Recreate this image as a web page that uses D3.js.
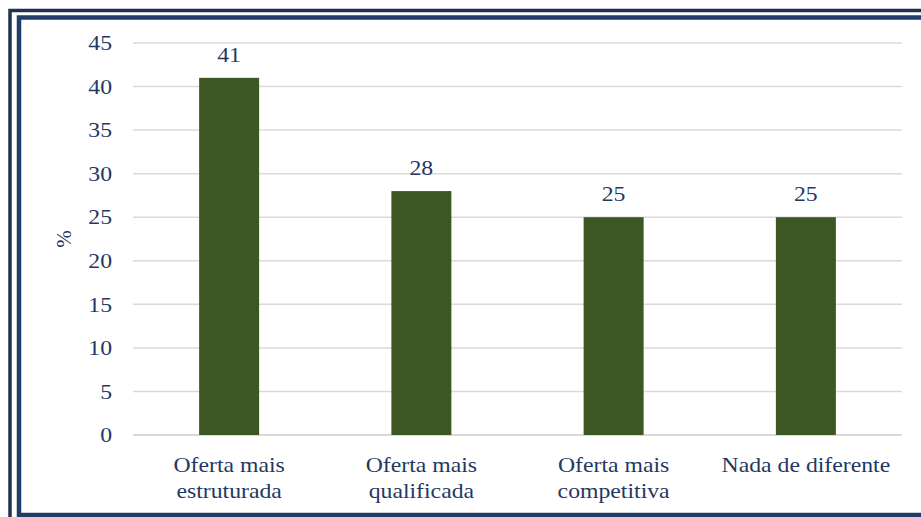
<!DOCTYPE html>
<html>
<head>
<meta charset="utf-8">
<script src="https://cdn.jsdelivr.net/npm/d3@7"></script>
<style>
  body { margin: 0; background: #fff; }
  svg text { font-family: "Liberation Serif", "Times New Roman", serif; fill: #1f3864; }
</style>
</head>
<body>
<script>
// chart values
const categories = [["Oferta mais", "estruturada"], ["Oferta mais", "qualificada"], ["Oferta mais", "competitiva"], ["Nada de diferente"]]
const values = [41, 28, 25, 25]
const yTicks = [0, 5, 10, 15, 20, 25, 30, 35, 40, 45]
const yLabel = "%"

const width = 921
const height = 517
const plot = { left: 133, right: 902, top: 43, bottom: 435 }
const fontSize = "21px"
const stretch = 1.13 // text in the picture is a bit wider than plain Times

let svg = d3.select("body").append("svg")
    .attr("width", width)
    .attr("height", height)

// double frame
svg.append("rect")
    .attr("x", 10).attr("y", 10.5)
    .attr("width", 1000).attr("height", 600)
    .attr("fill", "none").attr("stroke", "#1f3050").attr("stroke-width", 3.5)
svg.append("rect")
    .attr("x", 19).attr("y", 17.5)
    .attr("width", 1000).attr("height", 497.5)
    .attr("fill", "none").attr("stroke", "#213c69").attr("stroke-width", 4.5)

let x = d3.scaleBand()
    .domain(d3.range(categories.length))
    .range([plot.left, plot.right])
    .paddingInner(0.688)
    .paddingOuter(0.344)

let y = d3.scaleLinear()
    .domain([0, 45])
    .range([plot.bottom, plot.top])

// gridlines
svg.append("g").selectAll("line")
    .data(yTicks).enter()
    .append("line")
        .attr("x1", plot.left).attr("x2", plot.right)
        .attr("y1", d => y(d)).attr("y2", d => y(d))
        .attr("stroke", "#d9d9d9")
        .attr("stroke-width", d => d === 0 ? 2 : 1.5)

// y axis labels
let yAxis = d3.axisLeft(y).tickValues(yTicks).tickSize(0).tickPadding(21)
let yG = svg.append("g")
    .attr("transform", "translate(" + plot.left + ",0)")
    .call(yAxis)
yG.select(".domain").remove()
yG.selectAll("text")
    .style("font-size", fontSize)
    .attr("fill", "#1f3864")

// bars
svg.append("g").selectAll("rect")
    .data(values).enter()
    .append("rect")
        .attr("x", (d, i) => x(i))
        .attr("y", d => y(d))
        .attr("width", x.bandwidth())
        .attr("height", d => y(0) - y(d))
        .attr("fill", "#3c5624")

// value labels
svg.append("g").selectAll("text")
    .data(values).enter()
    .append("text")
        .attr("x", (d, i) => x(i) + x.bandwidth() / 2)
        .attr("y", d => y(d) - 16)
        .attr("text-anchor", "middle")
        .style("font-size", fontSize)
        .text(d => d)

// category labels
let cat = svg.append("g").selectAll("text")
    .data(categories).enter()
    .append("text")
        .attr("text-anchor", "middle")
        .style("font-size", fontSize)
cat.each(function (lines, i) {
    d3.select(this).selectAll("tspan")
        .data(lines).enter()
        .append("tspan")
            .attr("x", x(i) + x.bandwidth() / 2)
            .attr("y", (l, j) => plot.bottom + 37 + j * 26)
            .text(l => l)
})

// y title
svg.append("text")
    .attr("transform", "translate(71," + (plot.top + plot.bottom) / 2 + ") rotate(-90)")
    .attr("text-anchor", "middle")
    .style("font-size", fontSize)
    .text(yLabel)

// widen glyphs a little to match the reference
svg.selectAll("text").each(function () {
    let t = d3.select(this)
    if (t.selectAll("tspan").size() > 0) {
        t.selectAll("tspan").each(function () {
            let w = this.getComputedTextLength()
            d3.select(this).attr("textLength", w * stretch).attr("lengthAdjust", "spacingAndGlyphs")
        })
    } else if (t.text() !== yLabel) {
        let w = this.getComputedTextLength()
        t.attr("textLength", w * stretch).attr("lengthAdjust", "spacingAndGlyphs")
    }
})
</script>
</body>
</html>
